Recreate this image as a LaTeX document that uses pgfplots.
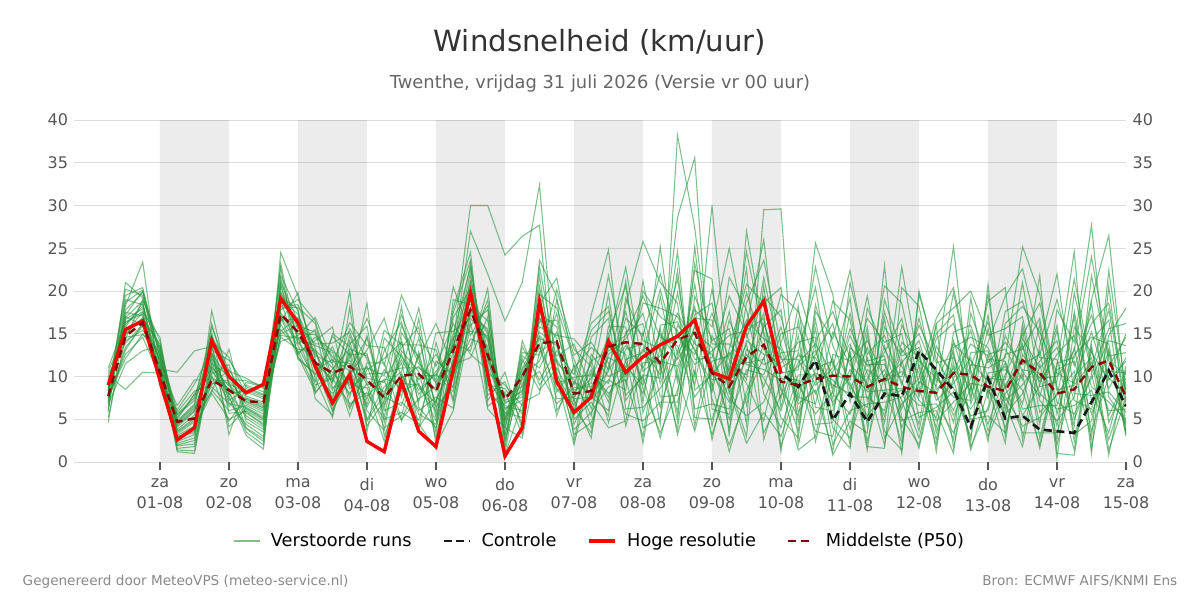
\documentclass[border=0pt]{standalone}
\usepackage{fontspec}
\setmainfont{DejaVu Sans}
\usepackage{pgfplots}
\usepackage{pgfplotstable}
\pgfplotsset{compat=1.18}
\definecolor{ensc}{RGB}{40,150,60}
\definecolor{p50c}{RGB}{139,0,0}
\definecolor{gridc}{RGB}{220,220,220}
\definecolor{tickc}{RGB}{85,85,85}
\definecolor{titlec}{RGB}{51,51,51}
\definecolor{subc}{RGB}{102,102,102}
\definecolor{footc}{RGB}{136,136,136}

\pgfplotstableread{
x m1 m2 m3 m4 m5 m6 m7 m8 m9 m10 m11 m12 m13 m14 m15 m16 m17 m18 m19 m20 m21 m22 m23 m24 m25 m26 m27 m28 m29 m30
-0.75 7.5 9.2 6.1 8.4 10.3 5.8 7.9 9.6 8.8 6.7 11.0 7.2 8.1 9.9 4.6 8.6 7.0 10.1 6.4 9.0 8.3 7.7 5.2 9.4 8.0 10.6 6.9 7.4 9.1 8.5
-0.5 12.6 14.9 18.3 16.7 13.9 21.0 15.8 14.2 17.2 11.5 16.4 13.1 20.2 14.6 16.9 15.5 18.7 8.5 17.5 15.0 19.0 12.1 14.4 16.3 17.0 15.2 17.8 13.4 16.1 19.5
-0.25 14.6 16.8 23.4 17.9 16.1 19.2 18.6 15.4 20.0 13.0 17.3 16.2 19.5 14.9 18.8 16.5 20.1 10.5 17.1 16.9 18.4 15.0 19.0 17.6 16.0 17.5 19.8 15.9 18.2 20.4
0 9.9 13.8 9.0 11.6 10.5 13.2 9.4 12.6 10.9 13.6 10.0 12.0 11.4 12.9 8.8 11.0 12.3 10.4 11.8 13.5 10.2 12.4 14.1 9.6 11.2 14.6 12.8 10.7 13.0 12.2
0.25 2.4 4.6 6.1 1.9 3.3 5.8 4.1 2.8 10.5 3.6 2.2 5.5 1.2 4.3 2.9 6.6 1.6 4.8 3.1 5.0 2.0 4.4 3.5 5.6 1.4 3.0 4.7 2.6 3.8 5.2
0.5 3.2 6.4 9.1 2.1 4.7 8.3 5.9 3.6 13.0 5.1 2.8 7.2 1.0 6.0 3.9 9.6 1.8 6.8 4.2 8.0 2.5 6.2 4.9 7.5 1.3 3.4 6.6 4.0 5.5 7.8
0.75 16.2 8.8 13.1 10.6 15.1 9.0 12.9 11.1 13.5 8.2 10.1 12.7 11.3 11.5 13.9 9.6 12.6 15.8 8.4 10.9 17.7 12.1 9.9 14.8 11.8 9.2 14.2 8.0 12.4 10.3
1 9.0 6.8 11.9 8.3 5.7 10.8 4.1 8.9 7.2 13.2 4.8 9.7 7.5 10.1 3.2 9.5 8.0 10.6 6.0 7.0 9.1 7.7 8.6 10.4 6.5 9.3 12.2 5.0 7.9 11.4
1.25 7.3 6.4 8.8 3.5 5.9 7.5 6.3 6.8 8.6 5.1 7.4 9.5 3.9 6.2 9.0 7.1 5.4 9.8 6.6 4.4 8.2 3.1 7.0 5.7 9.3 4.0 7.7 6.0 8.4 4.7
1.5 6.4 5.3 7.9 2.0 4.3 6.8 5.1 5.9 7.8 3.8 6.6 8.9 2.4 5.0 8.2 6.3 4.1 8.6 5.6 3.0 7.4 1.5 6.1 4.5 8.8 2.7 7.0 4.8 7.6 3.5
1.75 22.7 15.0 17.5 24.5 18.9 16.6 21.5 18.0 15.5 21.0 14.1 19.0 16.9 23.2 15.3 19.8 17.2 21.8 14.6 19.5 17.8 20.9 14.8 16.4 19.9 17.0 18.2 20.5 16.1 19.3
2 12.0 16.0 14.0 19.4 12.6 16.7 14.3 18.1 13.0 16.5 14.8 17.3 12.2 13.8 16.9 14.6 15.0 17.6 13.2 16.3 19.0 12.4 14.5 19.8 15.9 13.6 18.4 15.5 12.8 17.9
2.25 10.4 13.8 11.5 12.0 14.6 9.8 13.1 16.2 8.5 11.3 16.9 12.7 10.2 15.5 12.4 9.0 14.9 7.4 13.0 10.7 16.5 8.2 13.6 11.0 15.2 9.4 13.3 11.7 14.2 8.0
2.5 8.0 13.9 10.5 6.8 13.0 5.2 11.0 8.7 15.0 5.9 11.8 9.2 13.5 7.0 11.6 9.8 12.3 5.5 8.4 12.0 9.6 10.2 12.8 7.5 11.4 14.7 6.1 9.5 15.8 10.9
2.75 10.3 15.2 8.0 13.0 11.0 13.8 6.2 9.3 13.5 10.8 11.5 14.2 8.6 12.7 16.3 6.8 10.6 18.1 12.2 9.0 15.6 11.9 7.6 14.8 5.4 12.5 9.7 20.0 6.5 13.2
3 13.1 9.8 11.2 6.7 5.0 15.9 10.8 18.6 9.0 14.5 7.3 6.0 10.3 4.2 13.6 8.1 11.0 4.8 16.8 8.7 12.0 6.4 14.8 9.4 11.6 12.7 7.7 3.5 9.2 12.4
3.25 16.8 9.3 6.0 13.0 8.8 4.6 12.1 3.0 9.5 6.7 15.4 3.7 10.4 7.1 13.4 5.0 10.1 7.9 11.3 2.4 6.3 10.8 7.6 8.2 11.6 5.3 9.7 14.5 4.0 7.4
3.5 9.8 13.4 7.0 16.4 10.6 13.0 14.0 8.7 4.8 10.4 13.7 14.3 11.0 12.6 7.6 5.8 17.2 12.0 19.5 10.2 16.0 8.3 6.6 11.6 5.0 15.1 9.2 12.3 5.4 18.2
3.75 11.2 15.8 4.9 8.8 18.0 10.6 7.0 14.5 10.1 5.6 13.7 4.0 11.0 7.9 16.8 4.5 12.0 8.4 14.9 6.0 11.5 9.2 12.5 3.8 7.4 12.2 9.0 9.6 12.9 6.4
4 8.3 2.0 11.8 6.0 9.0 2.8 15.1 6.4 10.1 4.4 13.1 7.2 9.6 10.6 5.6 1.5 7.0 10.3 11.2 7.6 9.3 4.8 3.4 14.0 8.8 16.2 6.8 12.6 5.2 4.0
4.25 15.0 6.0 10.2 14.4 11.4 12.2 15.3 9.0 13.8 18.0 7.4 11.5 20.5 13.2 9.8 16.9 12.8 8.2 16.2 6.3 13.5 10.5 19.0 7.0 14.6 11.0 17.4 8.6 14.0 11.8
4.5 22.8 16.0 14.4 19.0 12.2 22.3 16.8 19.8 13.0 24.5 17.2 20.6 14.8 23.2 18.0 20.3 27.0 16.4 12.6 17.8 21.0 21.5 18.4 20.0 15.3 13.6 23.6 19.4 30.0 17.6
4.75 10.4 17.8 13.6 8.6 17.0 6.5 14.5 11.2 20.3 7.2 15.6 11.7 18.3 9.0 15.0 12.5 22.0 6.2 10.8 15.3 12.2 13.0 16.5 9.6 14.8 19.0 7.8 12.0 30.0 14.2
5 9.0 3.8 2.6 5.8 1.0 8.2 4.2 6.3 1.6 10.5 4.5 7.0 3.0 8.6 5.1 6.8 16.5 4.0 0.8 5.0 7.2 7.8 5.4 6.6 3.2 2.2 9.4 6.1 24.2 4.8
5.25 6.6 12.8 9.2 5.2 12.0 3.2 9.9 7.2 14.2 3.8 10.8 7.6 12.4 5.6 10.4 8.4 21.0 2.8 6.9 11.0 8.2 8.8 11.6 6.0 10.2 13.5 4.4 8.0 26.4 9.6
5.5 20.5 12.5 10.6 15.8 8.4 19.6 13.4 16.8 9.0 23.6 13.8 17.8 11.0 22.9 14.8 17.4 32.4 12.9 8.0 14.6 18.2 18.5 15.2 17.0 11.8 9.6 21.8 16.4 27.7 14.4
5.75 10.6 20.2 6.8 14.8 11.0 18.0 8.6 14.5 12.0 19.4 5.4 10.2 15.2 11.8 12.4 15.8 9.2 14.2 19.0 7.4 11.6 21.5 13.6 9.9 17.4 13.0 8.2 16.6 6.0 13.9
6 3.8 13.2 8.7 14.4 7.2 12.0 6.0 4.4 8.4 2.4 11.4 6.6 9.0 3.2 13.8 7.0 9.9 5.0 12.5 7.6 9.6 11.0 6.3 2.0 7.4 10.2 10.9 8.0 9.4 5.4
6.25 5.8 11.2 8.8 12.0 2.8 7.3 11.8 8.6 9.2 12.6 6.2 10.8 15.4 4.6 8.4 17.2 10.2 7.0 14.0 9.8 5.4 13.4 3.4 10.5 7.6 16.2 4.0 11.5 8.0 14.6
6.5 8.8 7.0 12.2 4.6 15.9 9.6 13.0 5.4 19.6 10.0 14.2 7.6 17.6 11.2 13.7 24.8 9.2 4.0 10.8 14.6 15.0 11.6 13.4 8.0 6.0 18.2 12.6 21.8 10.6 16.8
6.75 9.6 15.2 11.2 12.0 15.8 8.4 14.0 19.2 6.2 11.0 22.8 13.2 9.2 17.6 12.6 7.2 16.8 4.8 13.6 10.0 20.6 5.6 14.8 10.4 18.4 7.8 14.4 11.6 21.2 4.2
7 3.0 16.2 9.0 12.8 4.0 21.2 9.4 14.2 6.4 18.6 10.6 13.8 20.0 8.6 2.2 10.2 14.8 15.2 11.0 13.2 7.0 4.8 19.4 12.4 25.8 10.0 17.4 8.0 5.8 11.6
7.25 16.0 7.6 14.0 20.2 5.2 10.8 25.2 13.2 8.6 18.0 12.4 6.4 17.0 3.4 13.6 9.8 22.0 4.4 15.0 10.2 19.4 7.0 14.6 11.4 21.0 2.8 9.2 15.6 11.0 11.8
7.5 16.4 7.8 21.4 12.6 16.0 28.6 10.0 3.2 12.2 17.0 17.4 13.0 15.4 8.4 5.8 22.4 14.6 38.2 12.0 19.8 9.4 7.0 13.6 3.8 18.6 10.8 15.0 4.8 24.6 11.2
7.75 12.0 22.4 8.4 16.8 13.2 35.6 3.6 10.6 17.8 13.0 13.8 18.2 9.0 16.0 23.2 6.2 12.6 27.4 15.2 10.0 20.8 14.4 7.6 19.4 4.2 15.8 11.4 25.2 5.2 17.2
8 12.2 21.4 10.2 16.6 8.2 6.2 11.8 3.2 15.8 9.2 12.6 4.2 20.2 9.6 13.8 6.8 17.4 10.6 13.4 30.0 8.6 2.6 10.4 14.2 14.8 11.2 13.0 7.4 5.0 18.6
8.25 19.4 3.0 12.8 8.4 16.6 5.6 12.4 9.4 25.0 1.2 7.4 13.2 9.2 10.0 13.8 6.2 12.0 17.6 3.8 9.0 21.6 11.2 7.0 15.6 10.6 5.0 14.8 2.0 11.6 8.0
8.5 15.0 27.0 9.6 2.2 11.6 16.0 16.6 12.6 14.6 8.2 5.4 20.8 13.8 24.6 11.4 18.6 9.2 6.6 13.2 3.0 17.8 10.2 14.2 4.4 22.6 10.8 15.4 7.6 19.8 12.0
8.75 8.8 15.2 21.6 5.8 12.0 26.0 14.4 9.8 19.4 13.8 7.0 18.6 3.4 14.8 10.8 23.6 4.8 16.2 11.4 20.6 8.0 15.8 12.6 29.5 2.6 10.2 16.8 12.2 13.2 17.4
9 15.0 8.4 12.0 3.0 19.6 8.8 13.2 6.0 17.0 9.8 12.8 20.4 7.8 1.2 9.6 13.6 14.0 10.4 12.4 6.4 4.0 17.8 11.6 29.6 9.4 15.8 7.4 5.2 11.0 1.8
9.25 15.8 5.4 12.0 9.0 17.6 1.4 7.2 12.8 8.8 9.6 13.0 5.8 11.6 16.6 3.6 8.6 20.0 10.8 6.8 14.8 10.2 4.6 14.0 2.0 11.2 7.6 18.2 2.8 12.4 8.0
9.5 10.0 16.6 8.0 5.6 11.6 3.0 15.6 9.0 12.6 3.6 20.4 9.4 13.8 6.4 17.6 10.4 13.4 22.8 8.4 2.4 10.2 14.2 14.6 11.0 13.0 6.8 4.4 18.4 12.2 25.6
9.75 0.8 6.6 12.2 8.2 9.0 12.6 5.0 11.0 16.2 3.0 8.0 18.8 10.2 6.0 14.4 9.6 4.0 13.6 1.2 10.6 7.0 17.6 2.0 11.8 7.4 15.2 4.6 11.4 8.6 19.6
10 4.8 10.8 2.0 14.8 8.0 11.8 2.8 19.2 8.4 13.0 5.6 16.6 9.6 12.6 22.4 7.6 1.6 9.2 13.4 13.8 10.0 12.2 6.0 3.8 17.4 11.4 21.0 9.0 15.6 7.0
10.25 3.4 8.2 18.0 10.4 6.4 14.2 9.8 4.2 13.4 1.8 10.8 7.2 16.8 2.4 11.8 7.6 15.0 5.0 11.4 8.8 19.4 1.4 6.8 12.2 8.4 9.2 12.6 5.4 11.2 15.8
10.5 19.0 8.4 13.2 5.4 16.8 9.8 12.8 23.0 7.6 1.6 9.4 13.6 14.0 10.2 12.4 6.0 3.6 17.6 11.4 20.6 9.2 15.8 7.0 4.6 10.8 2.0 14.8 8.0 12.0 2.8
10.75 12.8 8.6 9.4 13.2 5.2 11.6 16.8 3.0 8.4 20.4 10.6 6.2 15.0 10.0 4.0 14.0 1.4 11.2 7.2 18.6 2.2 12.4 7.6 16.0 4.8 12.0 9.0 22.8 1.0 6.8
11 15.0 6.6 4.4 10.4 2.0 14.2 7.6 11.4 2.8 18.2 8.0 12.6 5.2 16.0 9.4 12.2 20.0 7.2 1.6 9.0 13.0 13.4 9.8 11.8 5.8 3.6 16.8 11.0 19.6 8.8
11.25 10.2 6.8 16.2 2.6 11.2 7.2 14.4 4.8 10.8 8.4 16.0 1.2 6.4 11.6 8.0 8.8 12.0 5.2 10.6 15.0 3.4 7.8 16.8 9.8 6.0 13.6 9.4 4.0 12.8 2.0
11.5 6.0 3.4 18.0 11.6 25.2 9.2 16.2 7.0 4.6 11.0 1.6 15.2 8.2 12.2 2.6 19.8 8.6 13.4 5.4 17.2 9.8 13.0 20.4 7.6 1.0 9.6 13.8 14.2 10.4 12.6
11.75 11.4 8.8 20.0 1.4 6.8 12.2 8.6 9.2 12.8 5.4 11.2 16.0 3.0 8.2 19.2 10.4 6.2 14.6 9.8 4.2 13.8 1.8 10.8 7.2 17.4 2.4 11.8 7.6 15.4 5.0
12 11.0 3.0 14.8 8.4 12.0 3.6 18.8 8.8 13.0 6.0 16.4 9.8 12.6 19.6 8.0 2.4 9.6 13.4 14.0 10.4 12.4 6.4 4.4 17.2 11.6 20.8 9.4 15.6 7.4 5.4
12.25 12.2 8.0 15.6 5.6 11.8 9.0 20.4 2.2 7.2 12.6 8.8 9.6 13.2 6.0 11.6 16.2 4.0 8.6 19.4 10.8 6.8 14.8 10.2 5.0 14.0 3.0 11.2 7.6 17.6 3.4
12.5 25.2 10.2 17.0 8.0 5.4 12.0 2.6 16.2 9.0 13.2 3.4 21.0 9.6 14.4 6.2 18.2 10.8 13.8 22.6 8.4 1.8 10.6 14.8 15.4 11.4 13.6 6.8 4.2 18.8 12.6
12.75 19.6 1.6 7.2 13.0 9.0 9.8 13.6 5.8 11.8 16.8 3.4 8.8 21.8 11.0 6.6 15.2 10.4 4.4 14.4 2.0 11.4 7.6 18.6 2.8 12.6 8.0 16.2 5.2 12.2 9.4
13 8.8 10.8 4.8 2.6 16.0 10.0 22.0 7.8 14.2 5.6 3.4 9.4 1.0 13.4 6.6 10.4 2.0 17.8 7.0 11.6 4.2 15.4 8.4 11.2 19.0 6.2 0.4 8.0 12.0 12.6
13.25 1.4 11.8 7.6 19.8 2.4 13.0 8.0 17.0 5.0 12.6 9.6 21.4 0.8 7.2 13.4 9.2 10.0 14.0 5.6 12.2 17.6 3.2 9.0 24.6 11.2 6.6 15.8 10.6 4.2 14.8
13.5 14.2 5.6 18.6 10.4 13.6 24.0 7.8 1.0 10.2 14.6 15.2 11.0 13.2 6.2 3.6 19.0 12.2 27.7 9.8 17.2 7.2 4.8 11.6 1.6 16.2 8.4 12.8 2.8 21.8 8.8
13.75 16.6 11.2 4.6 15.6 1.4 12.4 8.2 20.6 2.6 13.8 8.6 17.8 5.4 13.2 10.0 26.5 0.8 7.6 14.2 9.8 10.6 14.8 6.0 12.8 18.6 3.4 9.6 22.4 11.8 7.0
14 3.4 14.6 9.4 16.2 7.6 12.8 5.8 4.2 8.8 3.0 12.2 6.6 9.8 3.6 15.0 7.0 10.8 4.6 13.6 8.0 10.4 18.0 6.2 3.2 7.8 11.2 11.8 8.4 10.2 5.0
}\enstable

\pgfplotstableread{
x y
-0.75 9.0
-0.5 15.5
-0.25 16.5
0.25 2.6
0.5 4.0
0.75 14.2
1.0 10.0
1.25 8.1
1.5 9.1
1.75 19.1
2.0 16.3
2.25 11.2
2.5 6.9
2.75 10.2
3.0 2.4
3.25 1.2
3.5 9.4
3.75 3.6
4.0 1.8
4.5 19.8
5.0 0.7
5.25 4.0
5.5 18.8
5.75 9.4
6.0 5.8
6.25 7.6
6.5 14.1
6.75 10.5
7.0 12.3
7.25 13.7
7.5 14.7
7.75 16.6
8.0 10.5
8.25 9.7
8.5 15.9
8.75 18.8
9.0 10.4
}\hrestable

\pgfplotstableread{
x y
-0.75 9.0
-0.5 15.5
-0.25 16.5
0.25 2.6
0.5 4.0
0.75 14.2
1.0 10.0
1.25 8.1
1.5 9.1
1.75 19.1
2.0 16.3
2.25 11.2
2.5 6.9
2.75 10.2
3.0 2.4
3.25 1.2
3.5 9.4
3.75 3.6
4.0 1.8
4.5 19.8
5.0 0.7
5.25 4.0
5.5 18.8
5.75 9.4
6.0 5.8
6.25 7.6
6.5 14.1
6.75 10.5
7.0 12.3
7.25 13.7
7.5 14.7
7.75 16.6
8.0 10.5
8.25 9.7
8.5 15.9
8.75 18.8
9.0 10.4
9.25 8.8
9.5 11.9
9.75 4.9
10.0 8.0
10.25 4.7
10.5 8.0
10.75 7.7
11.0 13.0
11.25 10.8
11.5 8.4
11.75 4.1
12.0 9.8
12.25 5.1
12.5 5.4
12.75 3.8
13.0 3.6
13.25 3.4
13.5 7.0
13.75 10.7
14.0 6.5
}\ctrltable

\pgfplotstableread{
x y
-0.75 7.7
-0.5 14.7
-0.25 16.3
0.25 4.7
0.5 5.1
0.75 9.6
1.0 8.4
1.25 7.1
1.5 7.0
1.75 17.3
2.0 15.2
2.25 11.6
2.5 10.4
2.75 11.2
3.0 9.6
3.25 7.5
3.5 10.1
3.75 10.3
4.0 8.3
4.5 17.8
5.0 7.3
5.25 10.0
5.5 13.9
5.75 14.1
6.0 8.0
6.25 8.3
6.5 13.5
6.75 14.0
7.0 13.8
7.25 11.6
7.5 14.3
7.75 15.1
8.0 10.4
8.25 8.8
8.5 12.3
8.75 13.7
9.0 9.4
9.25 9.0
9.5 9.7
9.75 10.1
10.0 10.0
10.25 8.8
10.5 9.7
10.75 8.8
11.0 8.3
11.25 8.1
11.5 10.4
11.75 10.2
12.0 8.8
12.25 8.3
12.5 11.9
12.75 10.4
13.0 8.0
13.25 8.5
13.5 11.1
13.75 11.9
14.0 7.6
}\ptable

\begin{document}
\begin{tikzpicture}
\path[use as bounding box] (0pt,0pt) rectangle (900pt,450pt);
\node[text=titlec] at (450pt,418.5pt) {\fontsize{21.9}{26}\selectfont Windsnelheid (km/uur)};
\node[text=subc] at (450pt,387.5pt) {\fontsize{13.4}{16}\selectfont Twenthe, vrijdag 31 juli 2026 (Versie vr 00 uur)};
\node[text=footc, anchor=west] at (13.5pt,14pt) {\fontsize{10.2}{12}\selectfont Gegenereerd door MeteoVPS (meteo-service.nl)};
\node[text=footc, anchor=east] at (886.5pt,14pt) {\fontsize{10.2}{12}\selectfont Bron: ECMWF AIFS/KNMI Ens};

\begin{axis}[
  at={(55.5pt,103.5pt)}, anchor=south west,
  scale only axis, width=789pt, height=256.5pt,
  xmin=-1.246, xmax=14, ymin=0, ymax=40,
  axis x line*=bottom, axis y line*=left,
  x axis line style={draw=none}, y axis line style={draw=none},
  ytick={0,5,...,40},
  ymajorgrids, grid style={gridc, line width=0.75pt},
  ytick style={draw=none},
  xtick={0,...,14},
  xticklabels={{za\\01-08},{zo\\02-08},{ma\\03-08},{di\\04-08},{wo\\05-08},{do\\06-08},{vr\\07-08},{za\\08-08},{zo\\09-08},{ma\\10-08},{di\\11-08},{wo\\12-08},{do\\13-08},{vr\\14-08},{za\\15-08}},
  tick align=outside, major tick length=6pt,
  xtick style={tickc, line width=1.4pt},
  xticklabel style={align=center, text=tickc, font=\fontsize{12}{15.75}\selectfont, yshift=-3pt},
  yticklabel style={text=tickc, font=\fontsize{12}{14}\selectfont, xshift=5pt},
  /pgf/number format/assume math mode=true,
  legend image code/.code={\draw[#1] (0pt,0pt) -- (19.5pt,0pt);},
  legend style={draw=none, fill=none, at={(0.5,-0.231)}, anchor=center,
    font=\fontsize{13.3}{16}\selectfont,
    /tikz/every even column/.append style={column sep=21pt},
    /tikz/every odd column/.append style={column sep=6pt}},
  legend columns=4, legend cell align=left,
]
\addplot[fill=black, fill opacity=0.075, draw=none, forget plot] coordinates {(0,0) (0,40) (1,40) (1,0)} \closedcycle;
\addplot[fill=black, fill opacity=0.075, draw=none, forget plot] coordinates {(2,0) (2,40) (3,40) (3,0)} \closedcycle;
\addplot[fill=black, fill opacity=0.075, draw=none, forget plot] coordinates {(4,0) (4,40) (5,40) (5,0)} \closedcycle;
\addplot[fill=black, fill opacity=0.075, draw=none, forget plot] coordinates {(6,0) (6,40) (7,40) (7,0)} \closedcycle;
\addplot[fill=black, fill opacity=0.075, draw=none, forget plot] coordinates {(8,0) (8,40) (9,40) (9,0)} \closedcycle;
\addplot[fill=black, fill opacity=0.075, draw=none, forget plot] coordinates {(10,0) (10,40) (11,40) (11,0)} \closedcycle;
\addplot[fill=black, fill opacity=0.075, draw=none, forget plot] coordinates {(12,0) (12,40) (13,40) (13,0)} \closedcycle;
\addplot[ensc, opacity=0.6, line width=0.8pt] table[x=x,y=m1]{\enstable};
\addlegendentry{Verstoorde runs}
\pgfplotsinvokeforeach{2,...,30}{
  \addplot[ensc, opacity=0.6, line width=0.8pt, forget plot] table[x=x,y=m#1]{\enstable};
}
\addplot[black!90, line width=2pt, dash pattern=on 6pt off 3.5pt] table[x=x,y=y]{\ctrltable};
\addlegendentry{Controle}
\addplot[red, line width=2.5pt] table[x=x,y=y]{\hrestable};
\addlegendentry{Hoge resolutie}
\addplot[p50c, line width=1.8pt, dash pattern=on 6pt off 4pt] table[x=x,y=y]{\ptable};
\addlegendentry{Middelste (P50)}
\end{axis}

\begin{axis}[
  at={(55.5pt,103.5pt)}, anchor=south west,
  scale only axis, width=789pt, height=256.5pt,
  xmin=-1.246, xmax=14, ymin=0, ymax=40,
  axis x line=none, axis y line*=right, y axis line style={draw=none},
  xtick=\empty,
  ytick={0,5,...,40}, ytick style={draw=none},
  yticklabel style={text=tickc, font=\fontsize{12}{14}\selectfont, xshift=1.5pt},
  /pgf/number format/assume math mode=true,
]
\addplot[draw=none, forget plot] coordinates {(0,0) (14,40)};
\end{axis}
\end{tikzpicture}
\end{document}
